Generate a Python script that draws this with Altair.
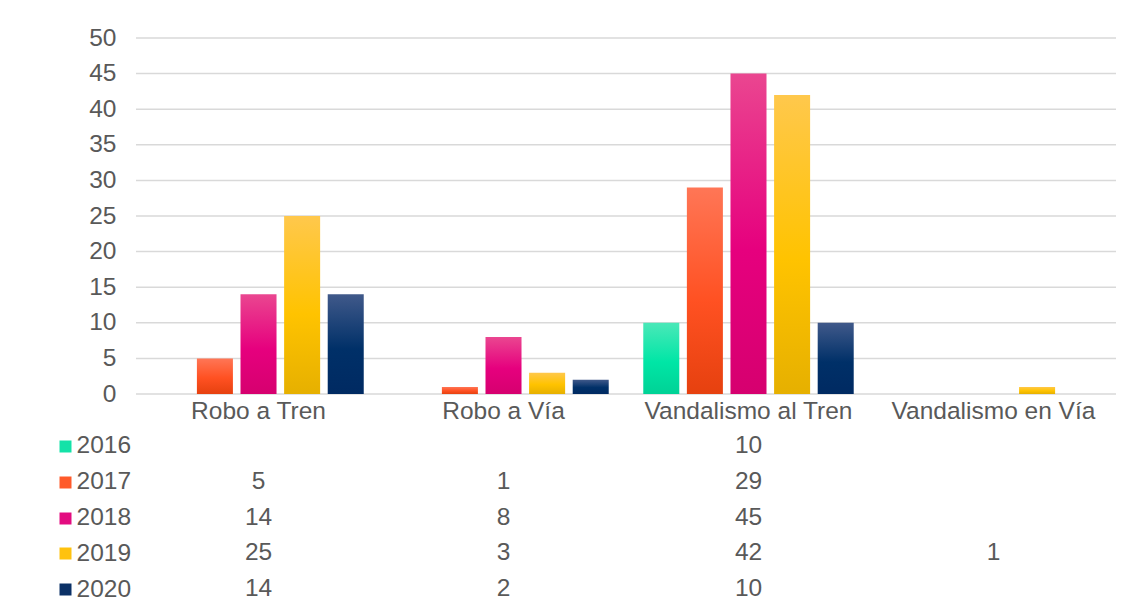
import altair as alt
import pandas as pd

categories = ["Robo a Tren", "Robo a Vía", "Vandalismo al Tren", "Vandalismo en Vía"]
years = ["2016", "2017", "2018", "2019", "2020"]
v2016 = [None, None, 10, None]
v2017 = [5, 1, 29, None]
v2018 = [14, 8, 45, None]
v2019 = [25, 3, 42, 1]
v2020 = [14, 2, 10, None]
y_ticks = [0, 5, 10, 15, 20, 25, 30, 35, 40, 45, 50]

# gradient stops (top, middle, bottom) and solid legend colours
grad = {
    "2016": ["#4AE8B8", "#00E6A6", "#00D296"],
    "2017": ["#FF7656", "#FF5122", "#E6410F"],
    "2018": ["#EA4690", "#E6007E", "#D6006F"],
    "2019": ["#FFC84C", "#FFC300", "#E6B000"],
    "2020": ["#40598A", "#003068", "#002A62"],
}
solid = {"2016": "#14E2A8", "2017": "#FF5A2A", "2018": "#E30C80", "2019": "#FFC20E", "2020": "#0B3166"}

rows = []
for yr, vals in zip(years, [v2016, v2017, v2018, v2019, v2020]):
    for c, v in zip(categories, vals):
        rows.append({"cat": c, "year": yr, "value": v})
df = pd.DataFrame(rows)
ticks_df = pd.DataFrame({"tick": y_ticks})

FONT = "Liberation Sans"
GREY = "#595959"
FS = 24.5

x_scale = alt.Scale(domain=categories, paddingInner=0.141, paddingOuter=0.0706)
off_scale = alt.Scale(domain=years, paddingInner=0.174, paddingOuter=0)
y_scale = alt.Scale(domain=[0, 50], nice=False, zero=True)

x_axis = alt.Axis(title=None, ticks=False, domain=False, labelFontSize=FS, labelColor=GREY,
                  labelFont=FONT, labelPadding=5, labelAngle=0, grid=False, labelLimit=400)
y_axis = alt.Axis(title=None, values=y_ticks, tickCount=11, ticks=False, domain=False,
                  labelFontSize=FS, labelColor=GREY, labelFont=FONT, labelPadding=20, grid=False,
                  labelOverlap=False)

# gridlines drawn from the tick values through the y scale
grid = alt.Chart(ticks_df).mark_rule(color="#D9D9D9", strokeWidth=1.5).encode(
    y=alt.Y("tick:Q", scale=y_scale, axis=y_axis)
)

layers = [grid]
for yr in years:
    g = grad[yr]
    layers.append(
        alt.Chart(df).transform_filter(
            f"datum.year === '{yr}' && isValid(datum.value)"
        ).mark_bar(
            color=alt.LinearGradient(
                gradient="linear", x1=0, x2=0, y1=0, y2=1,
                stops=[alt.GradientStop(color=g[0], offset=0),
                       alt.GradientStop(color=g[1], offset=0.55),
                       alt.GradientStop(color=g[2], offset=1)],
            )
        ).encode(
            x=alt.X("cat:N", scale=x_scale, sort=categories, axis=x_axis),
            xOffset=alt.XOffset("year:N", scale=off_scale, sort=years),
            y=alt.Y("value:Q", scale=y_scale, axis=y_axis),
        )
    )

bars = alt.layer(*layers).properties(width=980, height=356)

tick_color = {
    "condition": [{"test": f"datum.value === '{yr}'", "value": solid[yr]} for yr in years],
    "value": GREY,
}

table = alt.Chart(df).transform_filter("isValid(datum.value)").mark_text(
    font=FONT, fontSize=FS, color=GREY
).encode(
    x=alt.X("cat:N", scale=x_scale, axis=None, sort=categories),
    y=alt.Y("year:N", scale=alt.Scale(domain=years, paddingInner=0, paddingOuter=0),
            axis=alt.Axis(title=None, domain=False, grid=False, ticks=True, tickSize=12,
                          tickWidth=12, tickColor=tick_color, offset=65, labelAlign="left",
                          labelPadding=-17, labelFontSize=FS, labelColor=GREY, labelFont=FONT)),
    text=alt.Text("value:Q", format="d"),
).properties(width=980, height=179)

chart = alt.vconcat(bars, table, spacing=34, bounds="flush").properties(
    padding={"left": 45, "top": 17, "right": 5, "bottom": 0}, background="white"
).configure_view(stroke=None)

chart.save("out.html", embed_options={"renderer": "svg", "actions": False})
